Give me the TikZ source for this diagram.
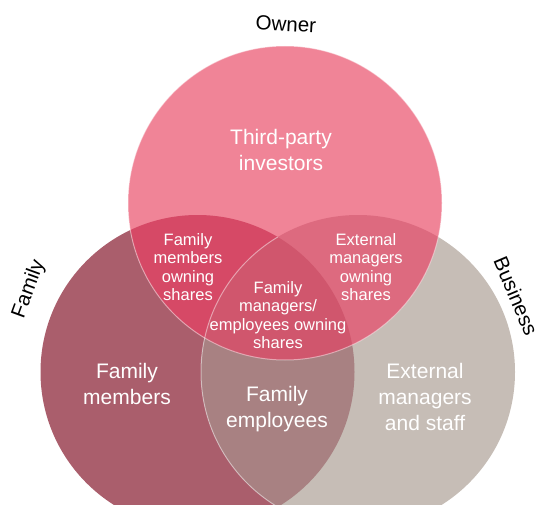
\documentclass[tikz,border=0pt]{standalone}
\usepackage{fontspec}
\setmainfont{Liberation Sans}
\definecolor{cT}{HTML}{F08497}
\definecolor{cL}{HTML}{AA5E6C}
\definecolor{cR}{HTML}{C6BDB6}
\definecolor{cLR}{HTML}{A88182}
\definecolor{cTL}{HTML}{D64966}
\definecolor{cTR}{HTML}{DD6A7F}
\definecolor{cC}{HTML}{D0566D}
\begin{document}
\begin{tikzpicture}[x=1pt,y=-1pt,
  biglab/.style={text=white,align=center,font=\fontsize{21}{26}\selectfont,inner sep=0pt},
  smalllab/.style={text=white,align=center,font=\fontsize{16.5}{18.5}\selectfont,inner sep=0pt},
  setlab/.style={text=black,font=\fontsize{20.5}{24}\selectfont,inner sep=0pt},
  rim/.style={draw=white,draw opacity=0.45,line width=1pt}]
\useasboundingbox (0,0) rectangle (543,505);
\clip (0,0) rectangle (543,505);
\coordinate (T) at (285,203);
\coordinate (L) at (197.5,372);
\coordinate (R) at (358,372);
% base discs
\fill[cL] (L) circle (157pt);
\fill[cR] (R) circle (157pt);
\fill[cT] (T) circle (157pt);
% pairwise overlaps
\begin{scope}
  \clip (L) circle (157pt);
  \fill[cLR] (R) circle (157pt);
  \fill[cTL] (T) circle (157pt);
\end{scope}
\begin{scope}
  \clip (R) circle (157pt);
  \fill[cTR] (T) circle (157pt);
\end{scope}
% centre overlap
\begin{scope}
  \clip (L) circle (157pt);
  \clip (R) circle (157pt);
  \fill[cC] (T) circle (157pt);
\end{scope}
% light rims
\begin{scope}
  \clip (L) circle (157pt);
  \draw[rim] (R) circle (157pt);
\end{scope}
\draw[rim] (T) circle (157pt);
% labels
\node[biglab] (tp) at (281,150) {Third-party\\investors};
\node[smalllab] (fmo) at (188,267) {Family\\members\\owning\\shares};
\node[smalllab] (emo) at (366,267) {External\\managers\\owning\\shares};
\node[smalllab] (fme) at (278,315) {Family\\managers/\\employees owning\\shares};
\node[biglab] (fm) at (127,384) {Family\\members};
\node[biglab] (fe) at (277,409) {Family\\employees};
\node[biglab] (ems) at (425,397) {External\\managers\\and staff};
\node[setlab,rotate=-3] (own) at (286,24) {Owner};
\node[setlab,rotate=70] (fam) at (29,289) {Family};
\node[setlab,rotate=-67] (bus) at (516,296) {Business};
\end{tikzpicture}
\end{document}
